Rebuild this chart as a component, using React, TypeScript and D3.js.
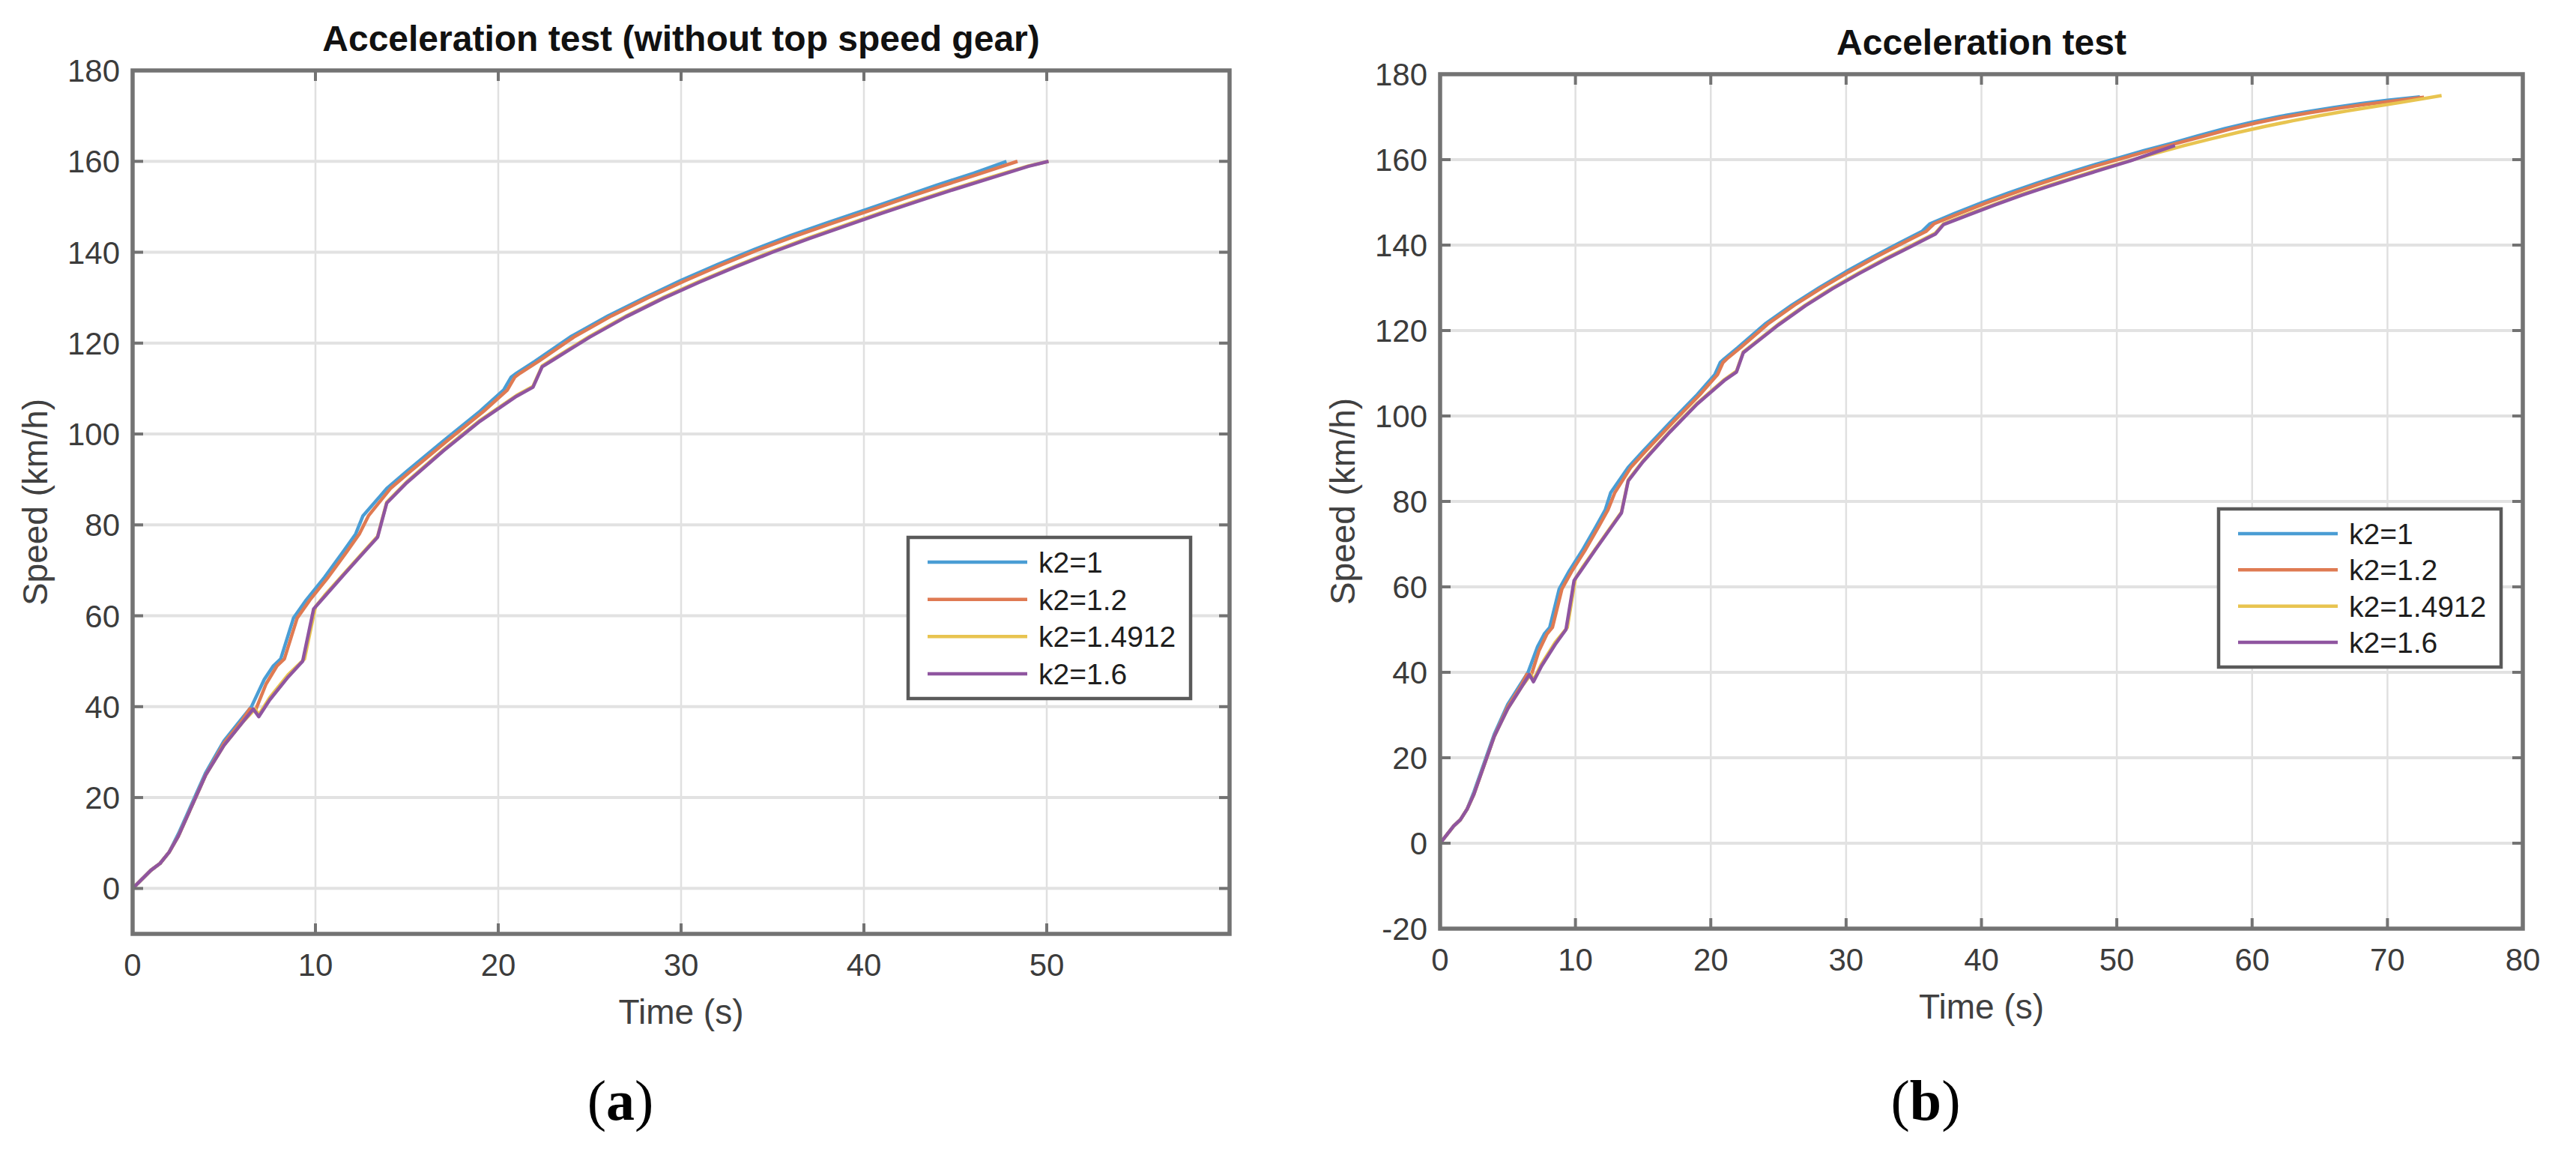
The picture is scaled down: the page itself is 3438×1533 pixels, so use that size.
import React, { useEffect } from 'react';
import * as d3 from 'd3';

type Pt = [number, number];

// ---------- shared ----------
const seriesNames = ['k2=1', 'k2=1.2', 'k2=1.4912', 'k2=1.6'];
const seriesColors = ['#4a9dd4', '#df7a52', '#e8c450', '#8f55a0'];

// ---------- panel (a): without top speed gear ----------
const leftTitle = 'Acceleration test (without top speed gear)';
const leftXTicks = [0, 10, 20, 30, 40, 50, 60];
const leftXTickLabels = ['0', '10', '20', '30', '40', '50', ''];
const leftYTicks = [0, 20, 40, 60, 80, 100, 120, 140, 160, 180];

const leftK1: Pt[] = [[0,0],[1,4],[1.5,5.5],[2,8],[2.5,12],[3,16.5],[3.5,21],[4,25.5],[5,32.5],[6,37.5],[6.5,40],[7.2,46],[7.7,49],[8.1,50.5],[8.8,59.5],[9.5,63.5],[10.5,68.5],[11.5,74],[12.2,78],[12.6,82],[13.9,88],[15,91.8],[17,98.5],[19,105],[20.3,109.7],[20.7,112.5],[21,113.4],[22,116],[24,121.5],[26,126],[28,130],[30,133.8],[32,137.3],[34,140.6],[36,143.7],[38,146.5],[40,149.2],[42,152],[44,154.8],[46,157.4],[47.8,160]];
const leftK12: Pt[] = [[0,0],[1,4],[1.5,5.5],[2,8],[2.5,11.5],[3,16],[3.5,20.5],[4,25],[5,32],[6,37],[6.4,39.5],[6.7,39],[7.3,45],[7.9,49],[8.3,50.5],[9,59.5],[9.7,63.5],[10.7,68.5],[11.7,74],[12.4,78],[12.9,82],[14.1,88],[15.2,91.8],[17.2,98.5],[19.2,105],[20.5,109.7],[20.9,112.5],[21.2,113.4],[22.2,116],[24.2,121.5],[26.2,126],[28.2,130],[30.2,133.7],[32.2,137.2],[34.2,140.5],[36.2,143.5],[38.2,146.3],[40.2,149],[42.2,151.8],[44.2,154.5],[46.2,157.1],[48.4,160]];
const leftK14912: Pt[] = [[0,0],[1,4],[1.5,5.5],[2,8],[2.5,11.5],[3,16],[3.5,20.5],[4,25],[5,31.5],[6,36.5],[6.7,39.5],[6.9,38.2],[7.5,42],[8.5,47],[9.4,50.5],[10,62],[10.5,64.5],[11.5,69],[12.5,73.5],[13.4,77.5],[13.9,85],[15,89.5],[17,96.5],[19,103],[21,108.5],[21.9,110.5],[22.4,115],[23,116.5],[25,121.5],[27,126],[29,130],[31,133.6],[33,137],[35,140.2],[37,143.2],[39,146],[41,148.8],[43,151.5],[45,154.1],[47,156.6],[49,159],[50.1,160]];
const leftK16: Pt[] = [[0,0],[1,4],[1.5,5.5],[2,8],[2.5,11.5],[3,16],[3.5,20.5],[4,25],[5,31.5],[6,36.5],[6.6,39.5],[6.9,37.8],[7.5,41.5],[8.5,46.5],[9.3,50],[9.9,61.5],[10.5,64.2],[11.5,68.8],[12.5,73.3],[13.4,77.3],[13.9,84.8],[15,89.3],[17,96.3],[19,102.8],[21,108.3],[21.9,110.3],[22.4,114.8],[23,116.3],[25,121.3],[27,125.8],[29,129.8],[31,133.4],[33,136.8],[35,140],[37,143],[39,145.8],[41,148.6],[43,151.3],[45,153.9],[47,156.4],[49,158.9],[50.1,160]];

// ---------- panel (b): with top speed gear ----------
const rightTitle = 'Acceleration test';
const rightXTicks = [0, 10, 20, 30, 40, 50, 60, 70, 80];
const rightXTickLabels = ['0', '10', '20', '30', '40', '50', '60', '70', '80'];
const rightYTicks = [-20, 0, 20, 40, 60, 80, 100, 120, 140, 160, 180];

const rightK1: Pt[] = [[0,0],[1,4],[1.5,5.5],[2,8],[2.5,12],[3,16.5],[3.5,21],[4,25.5],[5,32.5],[6,37.5],[6.5,40],[7.2,46],[7.7,49],[8.1,50.5],[8.8,59.5],[9.5,63.5],[10.5,68.5],[11.5,74],[12.2,78],[12.6,82],[13.9,88],[15,91.8],[17,98.5],[19,105],[20.3,109.7],[20.7,112.5],[21,113.4],[22,116],[24,121.5],[26,126],[28,130],[30,133.8],[32,137.3],[34,140.6],[35.6,143.2],[36.2,145],[38,147.4],[40,149.9],[42,152.2],[44,154.4],[46,156.5],[48,158.5],[50,160.3],[52,162.1],[54,163.8],[56,165.6],[58,167.3],[60,168.8],[62,170.1],[64,171.2],[66,172.2],[68,173.1],[70,173.9],[72.4,174.7]];
const rightK12: Pt[] = [[0,0],[1,4],[1.5,5.5],[2,8],[2.5,11.5],[3,16],[3.5,20.5],[4,25],[5,32],[6,37],[6.4,39.5],[6.7,39],[7.3,45],[7.9,49],[8.3,50.5],[9,59.5],[9.7,63.5],[10.7,68.5],[11.7,74],[12.4,78],[12.9,82],[14.1,88],[15.2,91.8],[17.2,98.5],[19.2,105],[20.5,109.7],[20.9,112.5],[21.2,113.4],[22.2,116],[24.2,121.5],[26.2,126],[28.2,130],[30.2,133.7],[32.2,137.2],[34.2,140.5],[35.9,143.2],[36.5,145],[38.3,147.3],[40.3,149.8],[42.3,152.1],[44.3,154.3],[46.3,156.4],[48.3,158.4],[50.3,160.2],[52.3,162],[54.3,163.7],[56.3,165.4],[58.3,167.1],[60.3,168.6],[62.3,169.9],[64.3,171],[66.3,172],[68.3,172.9],[70.3,173.7],[72.7,174.6]];
const rightK14912: Pt[] = [[0,0],[1,4],[1.5,5.5],[2,8],[2.5,11.5],[3,16],[3.5,20.5],[4,25],[5,31.5],[6,36.5],[6.7,39.5],[6.9,38.2],[7.5,42],[8.5,47],[9.4,50.5],[10,62],[10.5,64.5],[11.5,69],[12.5,73.5],[13.4,77.5],[13.9,85],[15,89.5],[17,96.5],[19,103],[21,108.5],[21.9,110.5],[22.4,115],[23,116.5],[25,121.5],[27,126],[29,130],[31,133.6],[33,137],[35,140.2],[36.6,142.8],[37.2,145],[39,147.2],[41,149.6],[43,151.9],[45,154],[47,156],[49,158],[51,159.8],[53,161.6],[55,163.3],[57,164.9],[59,166.4],[61,167.8],[63,169.1],[65,170.3],[67,171.4],[69,172.4],[71,173.4],[74,175]];
const rightK16: Pt[] = [[0,0],[1,4],[1.5,5.5],[2,8],[2.5,11.5],[3,16],[3.5,20.5],[4,25],[5,31.5],[6,36.5],[6.6,39.5],[6.9,37.8],[7.5,41.5],[8.5,46.5],[9.3,50],[9.9,61.5],[10.5,64.2],[11.5,68.8],[12.5,73.3],[13.4,77.3],[13.9,84.8],[15,89.3],[17,96.3],[19,102.8],[21,108.3],[21.9,110.3],[22.4,114.8],[23,116.3],[25,121.3],[27,125.8],[29,129.8],[31,133.4],[33,136.8],[35,140],[36.6,142.6],[37.2,144.8],[39,147],[41,149.4],[43,151.7],[45,153.8],[47,155.8],[49,157.8],[51,159.7],[53,161.9],[54.3,163.3]];

const FONT = '"Liberation Sans", Arial, Helvetica, sans-serif';
const SERIF = '"Liberation Serif", "Times New Roman", serif';

type PanelProps = {
  id: string;
  x0: number; x1: number; y0: number; y1: number;
  xDomain: [number, number]; yDomain: [number, number];
  xTicks: number[]; xTickLabels: string[]; yTicks: number[];
  series: Pt[][];
  title: string;
  legend: { x: number; y: number; w: number; h: number };
  caption: string; captionX: number; captionY: number;
};

function Panel(p: PanelProps) {
  const xs = d3.scaleLinear().domain(p.xDomain).range([p.x0, p.x1]);
  const ys = d3.scaleLinear().domain(p.yDomain).range([p.y1, p.y0]);
  const line = d3.line<Pt>().x(d => xs(d[0])).y(d => ys(d[1]));
  const axisColor = '#737373';
  const tickLen = 14;
  const cx = (p.x0 + p.x1) / 2;
  const cy = (p.y0 + p.y1) / 2;
  const entryGap = (p.legend.h - 66) / 3;
  return (
    <g>
      <defs>
        <clipPath id={p.id + '-clip'}>
          <rect x={p.x0} y={p.y0} width={p.x1 - p.x0} height={p.y1 - p.y0} />
        </clipPath>
      </defs>
      <rect x={p.x0} y={p.y0} width={p.x1 - p.x0} height={p.y1 - p.y0} fill="#ffffff" />
      {/* grid */}
      {p.xTicks.map((t, i) => (
        <line key={'gx' + i} x1={xs(t)} x2={xs(t)} y1={p.y0} y2={p.y1} stroke="#e0e0e0" strokeWidth={2.5} />
      ))}
      {p.yTicks.map((t, i) => (
        <line key={'gy' + i} x1={p.x0} x2={p.x1} y1={ys(t)} y2={ys(t)} stroke="#e2e2e2" strokeWidth={4} />
      ))}
      {/* curves */}
      <g clipPath={`url(#${p.id}-clip)`}>
        {p.series.map((s, i) => (
          <path key={'s' + i} d={line(s) || ''} fill="none" stroke={seriesColors[i]} strokeWidth={4.5} strokeLinejoin="round" />
        ))}
      </g>
      {/* ticks */}
      {p.xTicks.map((t, i) => (
        <g key={'tx' + i}>
          <line x1={xs(t)} x2={xs(t)} y1={p.y1} y2={p.y1 - tickLen} stroke={axisColor} strokeWidth={4} />
          <line x1={xs(t)} x2={xs(t)} y1={p.y0} y2={p.y0 + tickLen} stroke={axisColor} strokeWidth={4} />
          <text x={xs(t)} y={p.y1 + 56} textAnchor="middle" fontFamily={FONT} fontSize={42} fill="#3c3c3c">{p.xTickLabels[i]}</text>
        </g>
      ))}
      {p.yTicks.map((t, i) => (
        <g key={'ty' + i}>
          <line x1={p.x0} x2={p.x0 + tickLen} y1={ys(t)} y2={ys(t)} stroke={axisColor} strokeWidth={4} />
          <line x1={p.x1} x2={p.x1 - tickLen} y1={ys(t)} y2={ys(t)} stroke={axisColor} strokeWidth={4} />
          <text x={p.x0 - 17} y={ys(t) + 15} textAnchor="end" fontFamily={FONT} fontSize={42} fill="#3c3c3c">{String(t)}</text>
        </g>
      ))}
      {/* box */}
      <rect x={p.x0} y={p.y0} width={p.x1 - p.x0} height={p.y1 - p.y0} fill="none" stroke={axisColor} strokeWidth={5.5} />
      {/* labels */}
      <text x={cx} y={p.y0 - 26} textAnchor="middle" fontFamily={FONT} fontSize={48} fontWeight="bold" fill="#111111">{p.title}</text>
      <text x={cx} y={p.y1 + 120} textAnchor="middle" fontFamily={FONT} fontSize={46} fill="#404040">Time (s)</text>
      <text transform={`translate(${p.x0 - 130},${cy}) rotate(-90)`} textAnchor="middle" dy="0.35em" fontFamily={FONT} fontSize={46} fill="#404040">Speed (km/h)</text>
      {/* legend */}
      <rect x={p.legend.x} y={p.legend.y} width={p.legend.w} height={p.legend.h} fill="#ffffff" stroke="#5a5a5a" strokeWidth={4.5} />
      {seriesNames.map((n, i) => {
        const ey = p.legend.y + 33 + i * entryGap;
        return (
          <g key={'lg' + i}>
            <line x1={p.legend.x + 26} x2={p.legend.x + 159} y1={ey} y2={ey} stroke={seriesColors[i]} strokeWidth={4.5} />
            <text x={p.legend.x + 174} y={ey + 14} fontFamily={FONT} fontSize={39} fill="#1e1e1e">{n}</text>
          </g>
        );
      })}
      {/* caption */}
      <text x={p.captionX} y={p.captionY} textAnchor="middle" fontFamily={SERIF} fontSize={76} fill="#000000">
        (<tspan fontWeight="bold">{p.caption}</tspan>)
      </text>
    </g>
  );
}

export default function App() {
  useEffect(() => {
    document.body.style.margin = '0';
    document.body.style.background = '#ffffff';
  }, []);
  return (
    <svg width={3438} height={1533} viewBox="0 0 3438 1533" style={{ display: 'block', background: '#ffffff' }}>
      <rect x={0} y={0} width={3438} height={1533} fill="#ffffff" />
      <Panel
        id="a"
        x0={177} x1={1641} y0={94} y1={1246}
        xDomain={[0, 60]} yDomain={[-10, 180]}
        xTicks={leftXTicks} xTickLabels={leftXTickLabels} yTicks={leftYTicks}
        series={[leftK1, leftK12, leftK14912, leftK16]}
        title={leftTitle}
        legend={{ x: 1212, y: 717, w: 377, h: 215 }}
        caption="a" captionX={828} captionY={1494}
      />
      <Panel
        id="b"
        x0={1922} x1={3367} y0={99} y1={1239}
        xDomain={[0, 80]} yDomain={[-20, 180]}
        xTicks={rightXTicks} xTickLabels={rightXTickLabels} yTicks={rightYTicks}
        series={[rightK1, rightK12, rightK14912, rightK16]}
        title={rightTitle}
        legend={{ x: 2961, y: 679, w: 377, h: 211 }}
        caption="b" captionX={2570} captionY={1494}
      />
    </svg>
  );
}
